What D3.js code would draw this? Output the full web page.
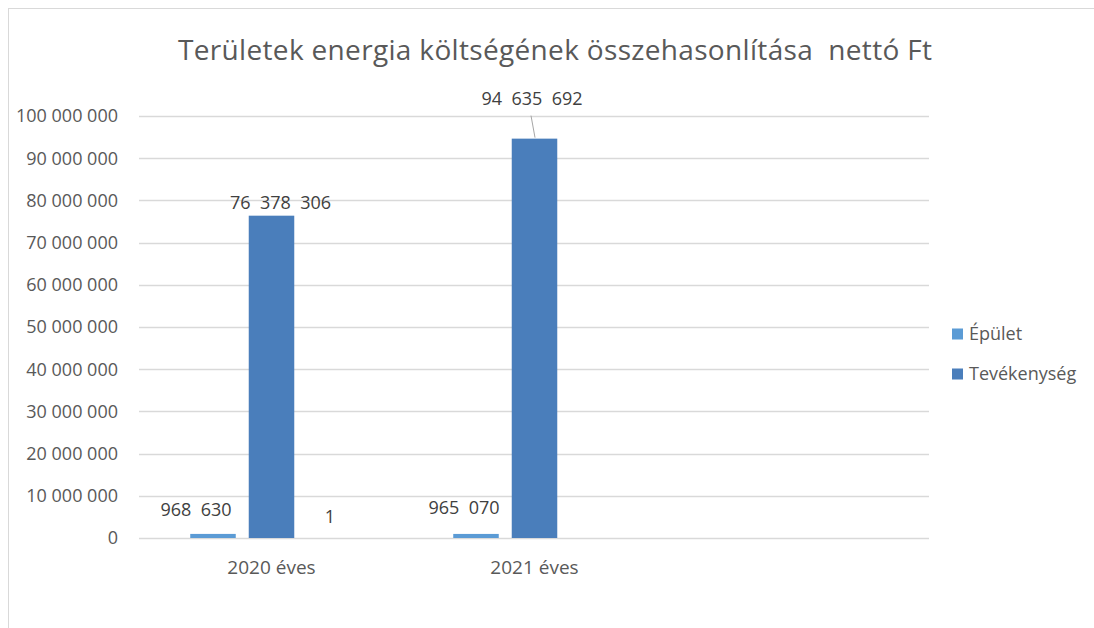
<!DOCTYPE html>
<html>
<head>
<meta charset="utf-8">
<script src="https://cdn.jsdelivr.net/npm/d3@7"></script>
<style>
  html, body { margin: 0; padding: 0; background: #fff; }
  svg { display: block; font-family: 'Open Sans', sans-serif; }
</style>
</head>
<body>
<div id="chart"></div>
<script>
const WIDTH = 1094
const HEIGHT = 628

const title = 'Területek energia költségének összehasonlítása  nettó Ft'
const categories = ['2020 éves', '2021 éves', '']
const seriesNames = ['Épület', 'Tevékenység', 'Sorozat3']
const epulet = [968630, 965070, null]
const tevekenyseg = [76378306, 94635692, null]
const sorozat3 = [1, null, null]
const yTicks = [0, 10e6, 20e6, 30e6, 40e6, 50e6, 60e6, 70e6, 80e6, 90e6, 100e6]
const legendNames = ['Épület', 'Tevékenység']

const colors = { 'Épület': '#5B9BD5', 'Tevékenység': '#4A7EBB', 'Sorozat3': 'none' }
// labels that were dragged by hand in the original: [dx, extra lift]
const labelNudge = {
  'Épület|2020 éves': [-17, 11],
  'Épület|2021 éves': [-12, 13],
  'Sorozat3|2020 éves': [0, 8],
  'Tevékenység|2020 éves': [9, 0],
  'Tevékenység|2021 éves': [-2.5, 27],
}

const MARGIN = { top: 116, bottom: 90, left: 140, right: 165 }
const innerBottom = HEIGHT - MARGIN.bottom
const fmt = v => d3.format(',')(v).replace(/,/g, ' ')

const rows = []
categories.forEach((c, i) => {
  [epulet, tevekenyseg, sorozat3].forEach((arr, s) => {
    if (arr[i] != null) rows.push({ cat: c, series: seriesNames[s], value: arr[i] })
  })
})

const x0 = d3.scaleBand()
  .domain(categories)
  .range([MARGIN.left, WIDTH - MARGIN.right])
const x1 = d3.scaleBand()
  .domain(seriesNames)
  .range([43.75, x0.bandwidth() - 43.75])
  .paddingInner(0.222)
  .paddingOuter(0.111)
const y = d3.scaleLinear()
  .domain([0, 100e6])
  .range([innerBottom, MARGIN.top])

const svg = d3.select('#chart').append('svg')
  .attr('width', WIDTH)
  .attr('height', HEIGHT)

// chart frame
svg.append('rect')
  .attr('x', 8.5).attr('y', 8.5)
  .attr('width', WIDTH + 10).attr('height', HEIGHT + 10)
  .attr('fill', 'none').attr('stroke', '#d9d9d9')

svg.append('text')
  .attr('x', 555).attr('y', 60)
  .attr('text-anchor', 'middle')
  .attr('fill', '#595959')
  .attr('textLength', 754)
  .attr('lengthAdjust', 'spacing')
  .style('font-size', '28px')
  .style('white-space', 'pre')
  .text(title)

// gridlines
svg.append('g')
  .selectAll('line')
  .data(yTicks)
  .enter()
  .append('line')
  .attr('x1', MARGIN.left - 1).attr('x2', WIDTH - MARGIN.right)
  .attr('y1', d => Math.round(y(d)) + 0.5)
  .attr('y2', d => Math.round(y(d)) + 0.5)
  .attr('stroke', '#d9d9d9')
  .attr('stroke-width', 1.3)

// y axis labels
svg.append('g')
  .selectAll('text')
  .data(yTicks)
  .enter()
  .append('text')
  .attr('x', 118)
  .attr('y', d => y(d))
  .attr('dy', '0.36em')
  .attr('text-anchor', 'end')
  .attr('fill', '#595959')
  .style('font-size', '18px')
  .text(d => fmt(d))

// category labels
svg.append('g')
  .selectAll('text')
  .data(categories)
  .enter()
  .append('text')
  .attr('x', d => x0(d) + x0.bandwidth() / 2)
  .attr('y', 567)
  .attr('dy', '0.36em')
  .attr('text-anchor', 'middle')
  .attr('fill', '#595959')
  .style('font-size', '19px')
  .text(d => d)

// bars
const barsSel = svg.append('g')
  .selectAll('g')
  .data(rows)
  .enter()
  .append('g')

barsSel.append('rect')
  .attr('x', d => x0(d.cat) + x1(d.series))
  .attr('y', d => y(d.value))
  .attr('width', x1.bandwidth())
  .attr('height', d => innerBottom - y(d.value))
  .attr('fill', d => colors[d.series])

// data labels
barsSel.append('text')
  .attr('x', d => x0(d.cat) + x1(d.series) + x1.bandwidth() / 2 + (labelNudge[d.series + '|' + d.cat] || [0, 0])[0])
  .attr('y', d => y(d.value) - 13 - (labelNudge[d.series + '|' + d.cat] || [0, 0])[1])
  .attr('dy', '0.36em')
  .attr('text-anchor', 'middle')
  .attr('fill', '#404040')
  .style('font-size', '18px')
  .style('white-space', 'pre')
  .text(d => fmt(d.value).replace(/ /g, '  '))

// leader line for the moved 2021 label
const moved = rows.find(d => d.series === 'Tevékenység' && d.cat === '2021 éves')
const mx = x0(moved.cat) + x1(moved.series) + x1.bandwidth() / 2
svg.append('line')
  .attr('x1', mx - 3.5).attr('y1', y(moved.value) - 23)
  .attr('x2', mx + 0.5).attr('y2', y(moved.value) - 1)
  .attr('stroke', '#a6a6a6')

// legend
const legendSel = svg.append('g')
  .selectAll('g')
  .data(legendNames)
  .enter()
  .append('g')
  .attr('transform', (d, i) => 'translate(952,' + (334 + i * 40) + ')')

legendSel.append('rect')
  .attr('x', 0).attr('y', -5.5)
  .attr('width', 11).attr('height', 11)
  .attr('fill', d => colors[d])

legendSel.append('text')
  .attr('x', 17)
  .attr('dy', '0.36em')
  .attr('fill', '#595959')
  .style('font-size', '18px')
  .text(d => d)
</script>
</body>
</html>
